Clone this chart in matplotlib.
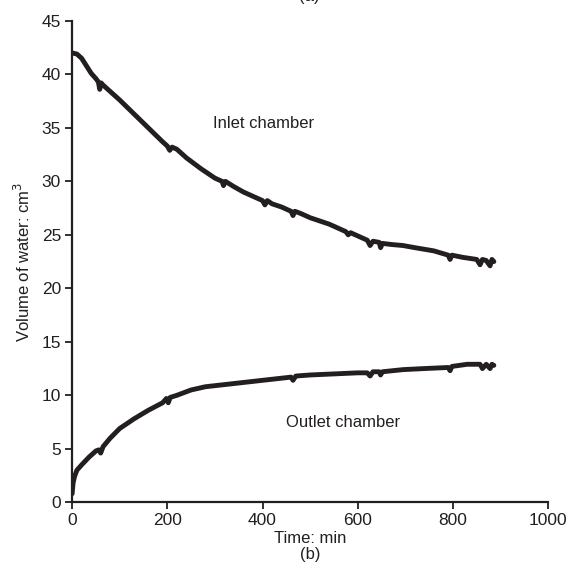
import matplotlib
matplotlib.use("Agg")
import matplotlib.pyplot as plt

# Inlet chamber (time in min, volume in cm^3)
t_in = [0, 10, 20, 30, 40, 50, 55, 58,
        61, 65, 80, 100, 130, 160, 190, 200,
        205, 210, 220, 240, 270, 300, 315, 318,
        322, 340, 360, 380, 400, 405, 410, 420,
        440, 460, 464, 468, 480, 500, 540, 575,
        580, 585, 600, 620, 626, 632, 645, 648,
        652, 670, 695, 720, 760, 790, 794, 798,
        820, 850, 857, 862, 870, 878, 882, 886]
v_in = [42.0, 41.9, 41.5, 40.8, 40.1, 39.6, 39.3, 38.6,
        39.2, 39.0, 38.4, 37.6, 36.3, 35.0, 33.7, 33.3,
        32.9, 33.2, 33.0, 32.2, 31.2, 30.3, 30.0, 29.6,
        30.0, 29.5, 29.0, 28.6, 28.2, 27.8, 28.2, 27.9,
        27.6, 27.2, 26.8, 27.2, 27.0, 26.6, 26.0, 25.3,
        25.0, 25.2, 24.9, 24.5, 24.0, 24.4, 24.3, 23.8,
        24.2, 24.1, 24.0, 23.8, 23.5, 23.1, 22.7, 23.1,
        22.9, 22.7, 22.2, 22.7, 22.6, 22.1, 22.7, 22.5]

# Outlet chamber
t_out = [0, 2, 5, 10, 20, 35, 50, 56,
         60, 65, 80, 100, 130, 160, 190, 198,
         202, 206, 220, 250, 280, 320, 360, 400,
         440, 460, 464, 470, 500, 550, 600, 620,
         626, 632, 645, 648, 652, 695, 740, 790,
         794, 798, 830, 857, 862, 870, 878, 882, 886]
v_out = [0.8, 1.8, 2.4, 3.0, 3.5, 4.2, 4.8, 4.9,
         4.6, 5.2, 6.0, 6.9, 7.8, 8.6, 9.3, 9.7,
         9.3, 9.8, 10.0, 10.5, 10.8, 11.0, 11.2, 11.4,
         11.6, 11.7, 11.4, 11.8, 11.9, 12.0, 12.1, 12.1,
         11.8, 12.2, 12.2, 11.9, 12.2, 12.4, 12.5, 12.6,
         12.3, 12.7, 12.9, 12.9, 12.5, 12.9, 12.5, 12.9, 12.8]

x_ticks = [0, 200, 400, 600, 800, 1000]
y_ticks = [0, 5, 10, 15, 20, 25, 30, 35, 40, 45]

plt.rcParams['font.family'] = ['Liberation Sans', 'DejaVu Sans']
txt = '#231f20'

fig = plt.figure(figsize=(5.68, 5.80), dpi=100)
ax = fig.add_axes([0.127, 0.134, 0.838, 0.830])

line_kw = dict(color='#231f20', lw=3.5, solid_capstyle='round', solid_joinstyle='round')
ax.plot(t_in, v_in, **line_kw)
ax.plot(t_out, v_out, **line_kw)

ax.set_xlim(0, 1000)
ax.set_ylim(0, 45)
ax.set_xticks(x_ticks)
ax.set_yticks(y_ticks)
for s in ['top', 'right']:
    ax.spines[s].set_visible(False)
for s in ['left', 'bottom']:
    ax.spines[s].set_linewidth(1.6)
    ax.spines[s].set_color(txt)
ax.tick_params(axis='both', direction='out', length=5, width=1.3, colors=txt,
               labelsize=12.5, labelcolor=txt, pad=3)

ax.text(402, 35.4, 'Inlet chamber', fontsize=12, color=txt, ha='center', va='center')
ax.text(570, 7.5, 'Outlet chamber', fontsize=12, color=txt, ha='center', va='center')

ax.set_ylabel('Volume of water: cm$^3$', fontsize=12, color=txt, labelpad=6)
ax.set_xlabel('Time: min\n(b)', fontsize=12, color=txt, labelpad=2, linespacing=1.1)

fig.text(0.545, 1 - 4 / 580, '(a)', fontsize=12, color=txt, ha='center', va='bottom')

fig.savefig('out.png', dpi=100)
